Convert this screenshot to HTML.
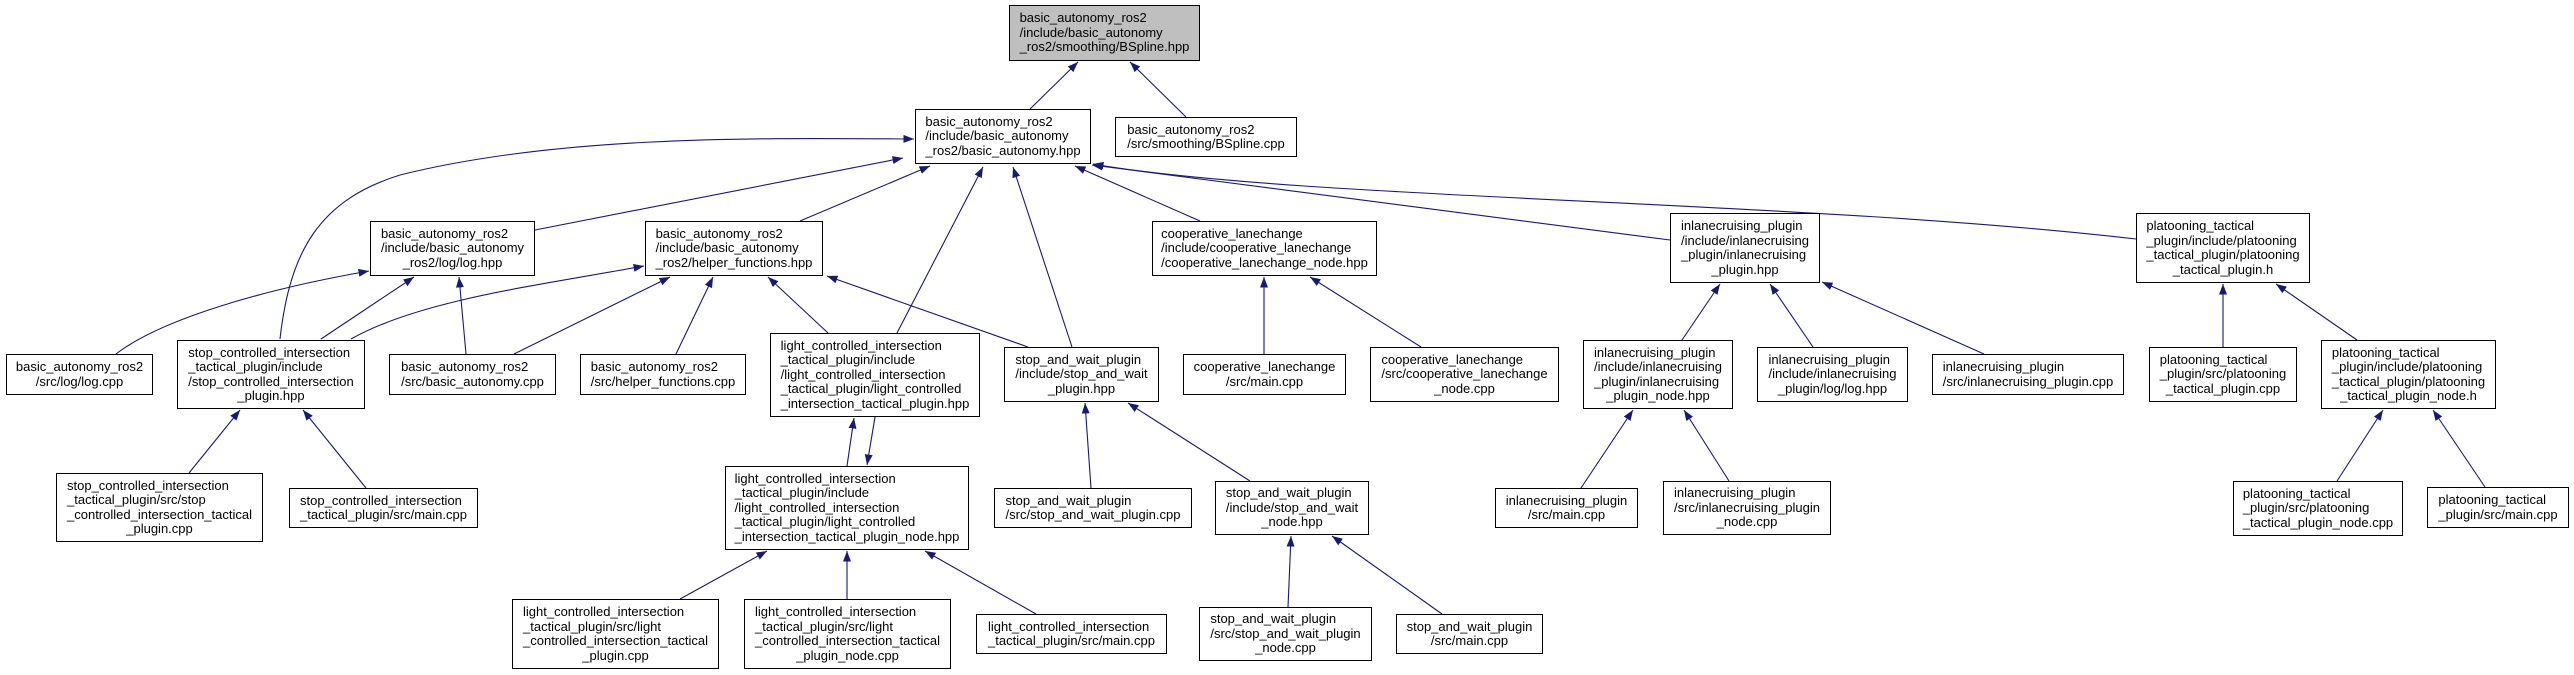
<!DOCTYPE html>
<html><head><meta charset="utf-8">
<style>
html,body{margin:0;padding:0;background:#fff;}
#wrap{position:relative;width:2574px;height:675px;overflow:hidden;background:#fff;}
svg{position:absolute;left:0;top:0;}
.n{position:absolute;box-sizing:border-box;border:1px solid #000;background:#fff;display:flex;align-items:center;justify-content:center;
font-family:"Liberation Sans",Arial,sans-serif;font-size:13px;line-height:14.5px;color:#000;white-space:nowrap;}
.n .t{display:inline-block;text-align:left;}
.n .t div:last-child{text-align:center;}
.g{background:#bfbfbf;}
</style></head><body><div id="wrap">
<svg width="2574" height="675" viewBox="0 0 2574 675">
<defs><marker id="a" markerUnits="userSpaceOnUse" markerWidth="11" markerHeight="8" refX="10.5" refY="4" orient="auto"><path d="M0,0 L10.5,4 L0,8 z" fill="#191970"/></marker></defs>
<g fill="none" stroke="#191970" stroke-width="1.1" marker-end="url(#a)">
<path d="M1030,109 L1078,62"/>
<path d="M1186,117 L1130,62"/>
<path d="M535,230 L903,158"/>
<path d="M800,221 L930,166"/>
<path d="M897,333 L983,167"/>
<path d="M1072,347 L1013,167"/>
<path d="M1200,221 L1075,166"/>
<path d="M1670,240 L1092,165"/>
<path d="M2136,239 C1800,200 1300,200 1093,164"/>
<path d="M280,339 C290,250 320,200 400,175 C560,135 760,138 914,139"/>
<path d="M321,339 L414,277"/>
<path d="M116,354 C160,320 260,290 369,271"/>
<path d="M466,354 L459,277"/>
<path d="M351,339 C420,300 540,285 644,266"/>
<path d="M514,354 L670,277"/>
<path d="M676,354 L713,277"/>
<path d="M828,333 L768,277"/>
<path d="M1028,347 L827,276"/>
<path d="M847,466 L854,418"/>
<path d="M875,417 L867,465"/>
<path d="M189,473 L240,410"/>
<path d="M366,488 L303,410"/>
<path d="M1091,488 L1085,403"/>
<path d="M1250,481 L1128,403"/>
<path d="M680,599 L767,551"/>
<path d="M847,599 L847,551"/>
<path d="M1036,614 L925,551"/>
<path d="M1288,607 L1291,536"/>
<path d="M1442,614 L1332,536"/>
<path d="M1264,354 L1264,277"/>
<path d="M1421,347 L1310,277"/>
<path d="M1682,340 L1720,284"/>
<path d="M1813,347 L1770,284"/>
<path d="M1984,354 L1822,282"/>
<path d="M2223,347 L2223,284"/>
<path d="M2357,340 L2276,284"/>
<path d="M1581,488 L1633,410"/>
<path d="M1729,481 L1684,410"/>
<path d="M2337,481 L2383,410"/>
<path d="M2485,487 L2433,410"/>
</g>
</svg>

<div class="n g" style="left:1009px;top:5px;width:191px;height:56px"><div class="t"><div>basic_autonomy_ros2</div><div>/include/basic_autonomy</div><div>_ros2/smoothing/BSpline.hpp</div></div></div>
<div class="n" style="left:915px;top:109px;width:176px;height:55px"><div class="t"><div>basic_autonomy_ros2</div><div>/include/basic_autonomy</div><div>_ros2/basic_autonomy.hpp</div></div></div>
<div class="n" style="left:1115px;top:117px;width:182px;height:40px"><div class="t"><div>basic_autonomy_ros2</div><div>/src/smoothing/BSpline.cpp</div></div></div>
<div class="n" style="left:370px;top:221px;width:165px;height:55px"><div class="t"><div>basic_autonomy_ros2</div><div>/include/basic_autonomy</div><div>_ros2/log/log.hpp</div></div></div>
<div class="n" style="left:645px;top:221px;width:178px;height:55px"><div class="t"><div>basic_autonomy_ros2</div><div>/include/basic_autonomy</div><div>_ros2/helper_functions.hpp</div></div></div>
<div class="n" style="left:1152px;top:221px;width:225px;height:55px"><div class="t"><div>cooperative_lanechange</div><div>/include/cooperative_lanechange</div><div>/cooperative_lanechange_node.hpp</div></div></div>
<div class="n" style="left:1670px;top:213px;width:150px;height:70px"><div class="t"><div>inlanecruising_plugin</div><div>/include/inlanecruising</div><div>_plugin/inlanecruising</div><div>_plugin.hpp</div></div></div>
<div class="n" style="left:2136px;top:213px;width:174px;height:70px"><div class="t"><div>platooning_tactical</div><div>_plugin/include/platooning</div><div>_tactical_plugin/platooning</div><div>_tactical_plugin.h</div></div></div>
<div class="n" style="left:6px;top:354px;width:147px;height:41px"><div class="t"><div>basic_autonomy_ros2</div><div>/src/log/log.cpp</div></div></div>
<div class="n" style="left:177px;top:340px;width:188px;height:69px"><div class="t"><div>stop_controlled_intersection</div><div>_tactical_plugin/include</div><div>/stop_controlled_intersection</div><div>_plugin.hpp</div></div></div>
<div class="n" style="left:389px;top:354px;width:167px;height:41px"><div class="t"><div>basic_autonomy_ros2</div><div>/src/basic_autonomy.cpp</div></div></div>
<div class="n" style="left:580px;top:354px;width:166px;height:41px"><div class="t"><div>basic_autonomy_ros2</div><div>/src/helper_functions.cpp</div></div></div>
<div class="n" style="left:770px;top:333px;width:210px;height:84px"><div class="t"><div>light_controlled_intersection</div><div>_tactical_plugin/include</div><div>/light_controlled_intersection</div><div>_tactical_plugin/light_controlled</div><div>_intersection_tactical_plugin.hpp</div></div></div>
<div class="n" style="left:1004px;top:347px;width:155px;height:55px"><div class="t"><div>stop_and_wait_plugin</div><div>/include/stop_and_wait</div><div>_plugin.hpp</div></div></div>
<div class="n" style="left:1183px;top:354px;width:163px;height:41px"><div class="t"><div>cooperative_lanechange</div><div>/src/main.cpp</div></div></div>
<div class="n" style="left:1370px;top:347px;width:189px;height:55px"><div class="t"><div>cooperative_lanechange</div><div>/src/cooperative_lanechange</div><div>_node.cpp</div></div></div>
<div class="n" style="left:1583px;top:340px;width:150px;height:69px"><div class="t"><div>inlanecruising_plugin</div><div>/include/inlanecruising</div><div>_plugin/inlanecruising</div><div>_plugin_node.hpp</div></div></div>
<div class="n" style="left:1757px;top:347px;width:151px;height:55px"><div class="t"><div>inlanecruising_plugin</div><div>/include/inlanecruising</div><div>_plugin/log/log.hpp</div></div></div>
<div class="n" style="left:1932px;top:354px;width:192px;height:41px"><div class="t"><div>inlanecruising_plugin</div><div>/src/inlanecruising_plugin.cpp</div></div></div>
<div class="n" style="left:2149px;top:347px;width:148px;height:55px"><div class="t"><div>platooning_tactical</div><div>_plugin/src/platooning</div><div>_tactical_plugin.cpp</div></div></div>
<div class="n" style="left:2321px;top:340px;width:175px;height:69px"><div class="t"><div>platooning_tactical</div><div>_plugin/include/platooning</div><div>_tactical_plugin/platooning</div><div>_tactical_plugin_node.h</div></div></div>
<div class="n" style="left:56px;top:473px;width:207px;height:69px"><div class="t"><div>stop_controlled_intersection</div><div>_tactical_plugin/src/stop</div><div>_controlled_intersection_tactical</div><div>_plugin.cpp</div></div></div>
<div class="n" style="left:289px;top:488px;width:189px;height:40px"><div class="t"><div>stop_controlled_intersection</div><div>_tactical_plugin/src/main.cpp</div></div></div>
<div class="n" style="left:725px;top:466px;width:244px;height:84px"><div class="t"><div>light_controlled_intersection</div><div>_tactical_plugin/include</div><div>/light_controlled_intersection</div><div>_tactical_plugin/light_controlled</div><div>_intersection_tactical_plugin_node.hpp</div></div></div>
<div class="n" style="left:994px;top:488px;width:198px;height:40px"><div class="t"><div>stop_and_wait_plugin</div><div>/src/stop_and_wait_plugin.cpp</div></div></div>
<div class="n" style="left:1215px;top:481px;width:154px;height:54px"><div class="t"><div>stop_and_wait_plugin</div><div>/include/stop_and_wait</div><div>_node.hpp</div></div></div>
<div class="n" style="left:1495px;top:488px;width:143px;height:40px"><div class="t"><div>inlanecruising_plugin</div><div>/src/main.cpp</div></div></div>
<div class="n" style="left:1663px;top:481px;width:168px;height:54px"><div class="t"><div>inlanecruising_plugin</div><div>/src/inlanecruising_plugin</div><div>_node.cpp</div></div></div>
<div class="n" style="left:2233px;top:481px;width:170px;height:55px"><div class="t"><div>platooning_tactical</div><div>_plugin/src/platooning</div><div>_tactical_plugin_node.cpp</div></div></div>
<div class="n" style="left:2427px;top:487px;width:142px;height:41px"><div class="t"><div>platooning_tactical</div><div>_plugin/src/main.cpp</div></div></div>
<div class="n" style="left:512px;top:599px;width:207px;height:70px"><div class="t"><div>light_controlled_intersection</div><div>_tactical_plugin/src/light</div><div>_controlled_intersection_tactical</div><div>_plugin.cpp</div></div></div>
<div class="n" style="left:744px;top:599px;width:207px;height:70px"><div class="t"><div>light_controlled_intersection</div><div>_tactical_plugin/src/light</div><div>_controlled_intersection_tactical</div><div>_plugin_node.cpp</div></div></div>
<div class="n" style="left:976px;top:614px;width:191px;height:40px"><div class="t"><div>light_controlled_intersection</div><div>_tactical_plugin/src/main.cpp</div></div></div>
<div class="n" style="left:1199px;top:607px;width:173px;height:54px"><div class="t"><div>stop_and_wait_plugin</div><div>/src/stop_and_wait_plugin</div><div>_node.cpp</div></div></div>
<div class="n" style="left:1396px;top:614px;width:147px;height:40px"><div class="t"><div>stop_and_wait_plugin</div><div>/src/main.cpp</div></div></div>
</div></body></html>
